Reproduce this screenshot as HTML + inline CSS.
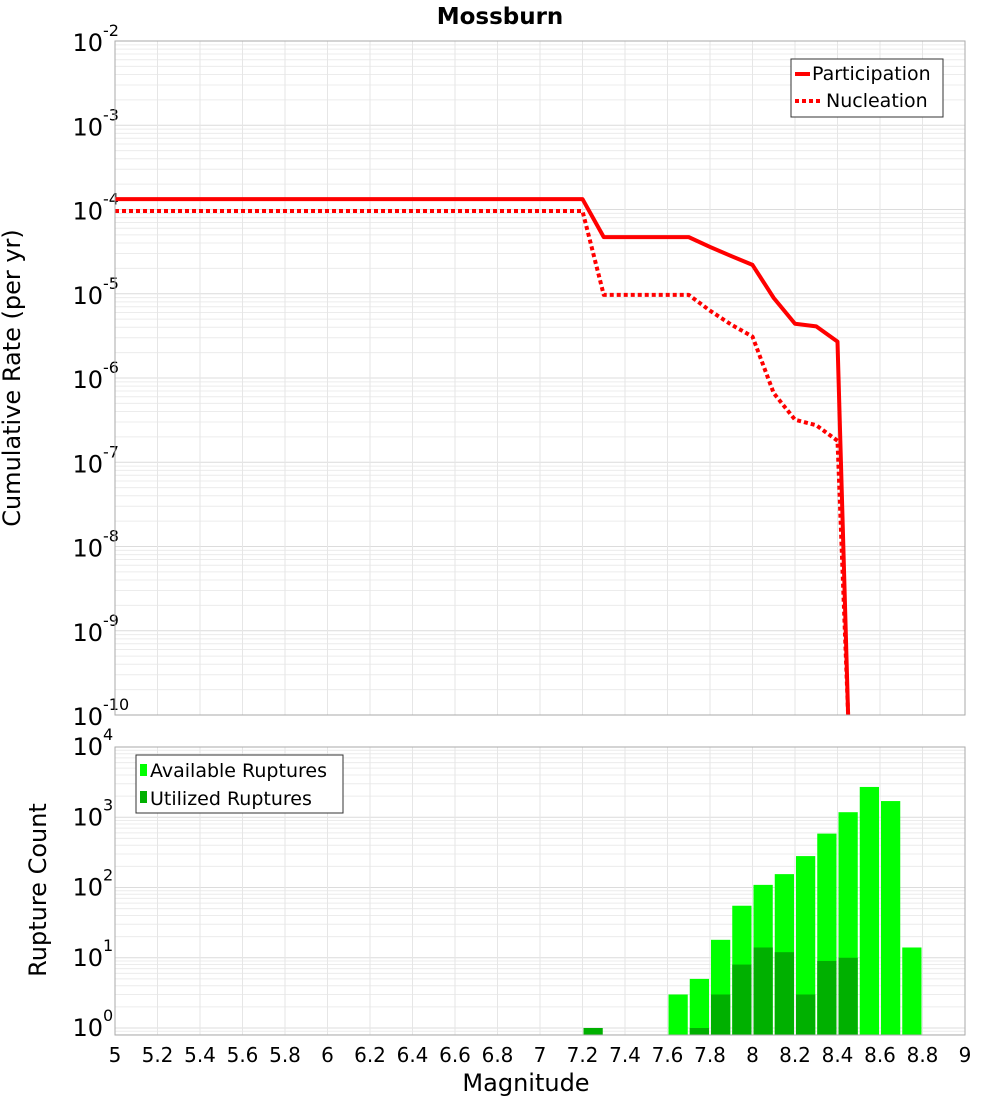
<!DOCTYPE html>
<html><head><meta charset="utf-8"><style>
body{margin:0;background:#fff}
svg{font-family:"DejaVu Sans","Liberation Sans",sans-serif}
</style></head><body>
<svg id="c" width="1000" height="1100" xmlns="http://www.w3.org/2000/svg">
<text x="500" y="24" text-anchor="middle" font-size="23" font-weight="bold">Mossburn</text>
<g id="g1"></g><g id="g2"></g>
<text transform="translate(20,378) rotate(-90)" text-anchor="middle" font-size="24">Cumulative Rate (per yr)</text>
<text transform="translate(46,890) rotate(-90)" text-anchor="middle" font-size="24">Rupture Count</text>
<text x="526" y="1091" text-anchor="middle" font-size="24">Magnitude</text>
</svg>
<script>
const mags=[5,7.2,7.3,7.4,7.5,7.6,7.7,7.8,7.9,8.0,8.1,8.2,8.3,8.4,8.45];
const participation=[1.33e-4,1.33e-4,4.7e-5,4.7e-5,4.7e-5,4.7e-5,4.7e-5,3.6e-5,2.8e-5,2.2e-5,8.9e-6,4.4e-6,4.1e-6,2.7e-6,1e-10];
const nucleation=[9.6e-5,9.6e-5,9.7e-6,9.7e-6,9.7e-6,9.7e-6,9.7e-6,6.3e-6,4.3e-6,3.1e-6,6.6e-7,3.2e-7,2.75e-7,1.8e-7,1e-10];
const binCenters=[7.25,7.65,7.75,7.85,7.95,8.05,8.15,8.25,8.35,8.45,8.55,8.65,8.75];
const available=[0,3,5,18,55,109,155,280,585,1180,2700,1700,14];
const utilized=[1,0,1,3,8,14,12,3,9,10,0,0,0];
const xTicks=[5,5.2,5.4,5.6,5.8,6,6.2,6.4,6.6,6.8,7,7.2,7.4,7.6,7.8,8,8.2,8.4,8.6,8.8,9];
const NS="http://www.w3.org/2000/svg";
const L=115,R=965;
const X=m=>L+(m-5)*(R-L)/4;
function mk(p,t,a){const e=document.createElementNS(NS,t);for(const k in a)e.setAttribute(k,a[k]);p.appendChild(e);return e;}
function panel(g,top,bot,yTopExp,yBotVal,pxDec){
  const Y=v=>top+(yTopExp-Math.log10(v))*pxDec;
  const minExp=Math.floor(Math.log10(yBotVal));
  for(let e=minExp;e<yTopExp;e++)for(let k=1;k<10;k++){const v=k*Math.pow(10,e),y=Y(v);if(y<top-0.5||y>bot+0.5)continue;
    const ln=mk(g,'line',{x1:L,x2:R,y1:y,y2:y,stroke:k==1?'#dcdcdc':'#ececec','stroke-width':1});
    
    }
  for(const t of xTicks){const ln=mk(g,'line',{x1:X(t),x2:X(t),y1:top,y2:bot,stroke:'#e6e6e6','stroke-width':1});
    
    }
  return Y;
}
const g1=document.getElementById('g1');
const T1=41,B1=715;
const Y1=panel(g1,T1,B1,-2,1e-10,84.25);
const cp=mk(g1,'clipPath',{id:'cp1'});mk(cp,'rect',{x:L,y:T1,width:R-L,height:B1-T1+2});
for(let e=-2;e>=-10;e--){const y=Y1(Math.pow(10,e));
  const t=mk(g1,'text',{x:103,y:y+10,'text-anchor':'end','font-size':24});t.textContent='10';
  
  
  const s=mk(g1,'text',{x:103,y:y-5,'font-size':16});s.textContent=String(e);
  
  }
function line(vals,dash,name){const d=mags.map((m,i)=>(i?'L':'M')+X(m)+','+Y1(Math.max(vals[i],1e-11))).join('');
  const p=mk(g1,'path',{d,fill:'none',stroke:'#ff0000','stroke-width':4,'clip-path':'url(#cp1)','stroke-linejoin':'round'});
  if(dash)p.setAttribute('stroke-dasharray','4,3');
  
  }
line(nucleation,true,'nucleation-line');
line(participation,false,'participation-line');
const f1=mk(g1,'rect',{x:L,y:T1,width:R-L,height:B1-T1,fill:'none',stroke:'#aaa'});


const lg1=mk(g1,'g',{});


mk(lg1,'rect',{x:791,y:59,width:152,height:58,fill:'#fff',stroke:'#333'});
mk(lg1,'line',{x1:795,x2:810,y1:74,y2:74,stroke:'#f00','stroke-width':4});
mk(lg1,'line',{x1:795,x2:822,y1:101,y2:101,stroke:'#f00','stroke-width':4,'stroke-dasharray':'4,3'});
let t=mk(lg1,'text',{x:812,y:80,'font-size':19});t.textContent='Participation';


t=mk(lg1,'text',{x:826,y:107,'font-size':19});t.textContent='Nucleation';


const g2=document.getElementById('g2');
const T2=747,B2=1035;
const pxd=70.25;
const Y2=panel(g2,T2,B2,4,0.79,pxd);
for(let e=0;e<=4;e++){const y=Y2(Math.pow(10,e));
  const tt=mk(g2,'text',{x:103,y:y+8,'text-anchor':'end','font-size':24});tt.textContent='10';
  
  
  const s=mk(g2,'text',{x:103,y:y-7,'font-size':16});s.textContent=String(e);
  
  }
const bw=(X(0.1)-X(0));
function bars(vals,color,name){binCenters.forEach((c,i)=>{if(!(vals[i]>0))return;const y=Y2(vals[i]);
  const r=mk(g2,'rect',{x:X(c)-bw/2+1,y,width:bw-2,height:B2-y,fill:color});
  
  });}
bars(available,'#00ff00','bar-available');
bars(utilized,'#00b000','bar-utilized');
const f2=mk(g2,'rect',{x:L,y:T2,width:R-L,height:B2-T2,fill:'none',stroke:'#aaa'});


for(const v of xTicks){const tx=mk(g2,'text',{x:X(v),y:1062,'text-anchor':'middle','font-size':20});tx.textContent=String(v);
  
  }
const lg2=mk(g2,'g',{});


mk(lg2,'rect',{x:136,y:755,width:207,height:58,fill:'#fff',stroke:'#333'});
mk(lg2,'rect',{x:140,y:764,width:7,height:12,fill:'#00ff00'});
mk(lg2,'rect',{x:140,y:791,width:7,height:12,fill:'#00b000'});
t=mk(lg2,'text',{x:150,y:777,'font-size':19});t.textContent='Available Ruptures';


t=mk(lg2,'text',{x:150,y:805,'font-size':19});t.textContent='Utilized Ruptures';


</script>
</body></html>
